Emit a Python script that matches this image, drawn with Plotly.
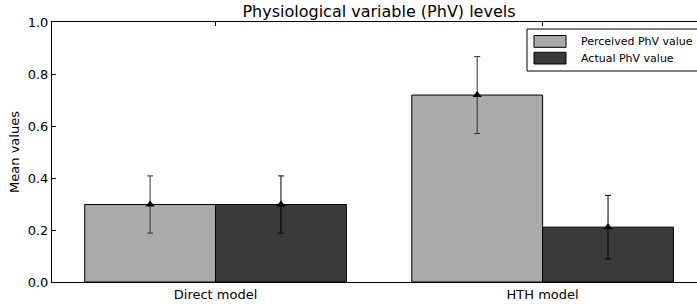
import numpy as np
import plotly.graph_objects as go

categories = ["Direct model", "HTH model"]
series_names = ["Perceived PhV value", "Actual PhV value"]
perceived = [0.298, 0.719]
perceived_err = [0.110, 0.148]
actual = [0.298, 0.211]
actual_err = [0.110, 0.122]
y_ticks = [0.0, 0.2, 0.4, 0.6, 0.8, 1.0]

bar_colors = ["#aaaaaa", "#3a3a3a"]
err_colors = ["#333333", "#000000"]

idx = np.arange(len(categories))
width = 0.4
xs = [idx + width / 2, idx + 1.5 * width]
vals = [perceived, actual]
errs = [perceived_err, actual_err]

fig = go.Figure()
for i in range(2):
    fig.add_trace(go.Bar(
        x=xs[i], y=vals[i], width=width, name=series_names[i],
        marker=dict(color=bar_colors[i], line=dict(color="#000000", width=1)),
        showlegend=False,
    ))
for i in range(2):
    fig.add_trace(go.Scatter(
        x=xs[i], y=vals[i], mode="markers",
        marker=dict(symbol="triangle-up", size=8, color="#000000"),
        error_y=dict(type="data", array=errs[i], visible=True,
                     color=err_colors[i], thickness=1, width=3),
        showlegend=False,
    ))

font = "DejaVu Sans, sans-serif"
fig.update_layout(
    width=697, height=304,
    margin=dict(l=52, r=0, t=22, b=22),
    paper_bgcolor="white", plot_bgcolor="white",
    barmode="overlay",
    font=dict(family=font, size=13, color="#000000"),
    title=dict(text="Physiological variable (PhV) levels", x=(52 + 706) / 2 / 697,
               xanchor="center", y=1 - 11 / 304, yanchor="middle",
               yref="container", font=dict(size=16, family=font)),
    xaxis=dict(range=[-0.1, 1.872], tickvals=idx + width, ticktext=categories,
               showline=True, linecolor="#000000", linewidth=1, mirror="ticks",
               ticks="inside", ticklen=4, tickcolor="#000000",
               showgrid=False, zeroline=False, tickfont=dict(size=13)),
    yaxis=dict(range=[0, 1], tickvals=y_ticks, tickformat=".1f",
               showline=True, linecolor="#000000", linewidth=1,
               ticks="inside", ticklen=4, tickcolor="#000000",
               showgrid=False, zeroline=False, tickfont=dict(size=13),
               title=dict(text="Mean values", font=dict(size=13), standoff=5)),
    showlegend=False,
)

# manual legend box (matplotlib style)
def px(x):
    return (x - 52) / 645
def py(y):
    return 1 - (y - 22) / 260

fig.add_shape(type="rect", xref="paper", yref="paper",
              x0=px(527), x1=px(712), y0=py(71), y1=py(29),
              line=dict(color="#000000", width=1), fillcolor="white")
patch_y = [(35.5, 47.3), (52.3, 64.0)]
text_y = [41.5, 58.5]
for i in range(2):
    fig.add_shape(type="rect", xref="paper", yref="paper",
                  x0=px(534), x1=px(566), y0=py(patch_y[i][1]), y1=py(patch_y[i][0]),
                  line=dict(color="#000000", width=1), fillcolor=bar_colors[i])
    fig.add_annotation(text=series_names[i], xref="paper", yref="paper",
                       x=px(579), y=py(text_y[i]), xanchor="left", yanchor="middle",
                       showarrow=False, font=dict(size=11, family=font, color="#000000"))

fig.write_html("out.html", config={"displayModeBar": False},
               post_script="document.body.style.margin='0';document.body.style.overflow='hidden';")
